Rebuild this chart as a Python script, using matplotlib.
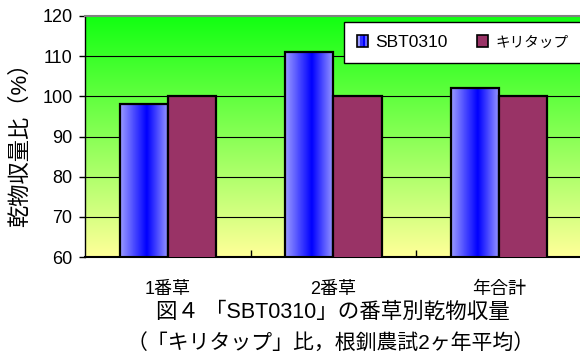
import numpy as np
import matplotlib.pyplot as plt
from matplotlib.colors import LinearSegmentedColormap
from matplotlib.patches import Rectangle
from matplotlib.legend_handler import HandlerBase

plt.rcParams['font.family'] = ['Liberation Sans', 'Noto Sans CJK JP']

categories = ['1番草', '2番草', '年合計']
sbt0310 = [98, 111, 102]
kiritap = [100, 100, 100]
series_names = ['SBT0310', 'キリタップ']
yticks = [60, 70, 80, 90, 100, 110, 120]

title1 = '図４ 「SBT0310」の番草別乾物収量'
title2 = '（「キリタップ」比，根釧農試2ヶ年平均）'

red = '#993366'
cyl = LinearSegmentedColormap.from_list(
    'cyl', [(0, '#9999ff'), (0.55, '#0000ff'), (1, '#9999ff')])
bg = LinearSegmentedColormap.from_list('bg', ['#ffff99', '#12ff12'])

fig = plt.figure(figsize=(5.8, 3.56), dpi=100)
ax = fig.add_axes([85/580, 1-257/356, (582-85)/580, (257-16)/356])

x = np.arange(len(categories))
w = 0.29
ymin, ymax = yticks[0], yticks[-1]

# background gradient (yellow bottom -> green top)
grad = np.linspace(0, 1, 256).reshape(-1, 1)
ax.imshow(grad, extent=[-0.5, 2.5, ymin, ymax], origin='lower',
          cmap=bg, aspect='auto', zorder=0)

for yv in yticks[1:-1]:
    ax.axhline(yv, color='black', lw=0.8, zorder=1)

# SBT0310 bars with cylinder shading
hgrad = np.linspace(0, 1, 64).reshape(1, -1)
bars = ax.bar(x - w/2, sbt0310, w, bottom=0, facecolor='none',
              edgecolor='black', lw=1.6, zorder=3)
for b in bars:
    x0 = b.get_x()
    ax.imshow(hgrad, extent=[x0, x0 + w, ymin, b.get_height()],
              cmap=cyl, aspect='auto', zorder=2)
ax.bar(x + w/2, kiritap, w, color=red, edgecolor='black', lw=1.6, zorder=3)

ax.set_xlim(-0.5, 2.5)
ax.set_ylim(ymin, ymax)
ax.set_yticks(yticks)
ax.tick_params(axis='y', direction='out', length=4, width=1, pad=5,
               labelsize=13)
ax.set_xticks(x)
ax.set_xticklabels(categories, fontsize=13)
ax.tick_params(axis='x', which='major', length=0, pad=17)
ax.set_xticks([0.5, 1.5], minor=True)
ax.tick_params(axis='x', which='minor', direction='in', length=5, width=1)

ax.spines['right'].set_visible(False)
ax.spines['top'].set_color('#808080')
ax.spines['top'].set_linewidth(1.5)
ax.spines['left'].set_linewidth(1)
ax.spines['bottom'].set_linewidth(1.5)


class CylHandler(HandlerBase):
    def create_artists(self, legend, orig, xd, yd, width, height, fs, trans):
        arts = []
        cols = ['#9999ff', '#3333ff', '#0000ff', '#6666ff']
        n = len(cols)
        for i, c in enumerate(cols):
            r = Rectangle((-xd + width*i/n, -yd), width/n, height,
                          facecolor=c, edgecolor='none', transform=trans)
            arts.append(r)
        arts.append(Rectangle((-xd, -yd), width, height, facecolor='none',
                              edgecolor='black', lw=1.2, transform=trans))
        return arts


h1 = Rectangle((0, 0), 1, 1)
h2 = Rectangle((0, 0), 1, 1, facecolor=red, edgecolor='black', lw=1.2)
leg = fig.legend([h1, h2], series_names, handler_map={h1: CylHandler()},
                 loc='upper left', bbox_to_anchor=(344/580, 1-22/356),
                 ncol=2, fontsize=12.5, frameon=True, fancybox=False,
                 borderpad=0.75, handlelength=0.65, handleheight=0.65,
                 handletextpad=0.4, columnspacing=1.7, borderaxespad=0)
leg.get_texts()[1].set_fontsize(10.5)
leg.get_frame().set_edgecolor('black')
leg.get_frame().set_linewidth(1)
leg.get_frame().set_alpha(1)

fig.text(20/580, 1-139/356, '乾物収量比（%）', rotation=90, ha='center',
         va='center', fontsize=16)
fig.text(333/580, 1-312/356, title1, ha='center', va='center', fontsize=15.5)
fig.text(331/580, 1-343/356, title2, ha='center', va='center', fontsize=15)

fig.savefig('out.png', dpi=100)
